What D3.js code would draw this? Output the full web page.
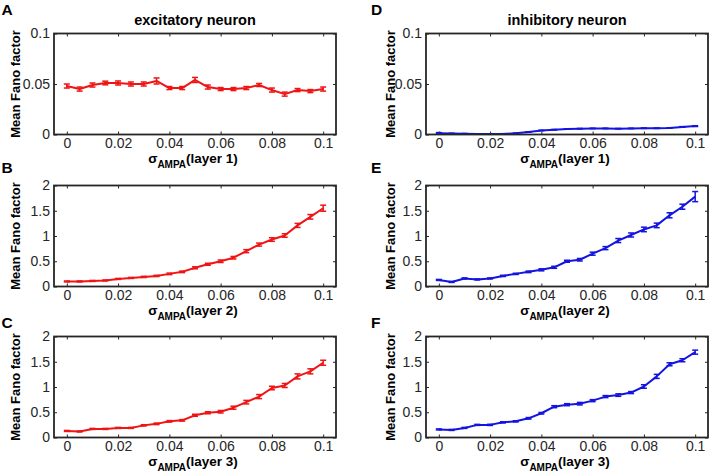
<!DOCTYPE html>
<html><head><meta charset="utf-8">
<script src="https://cdn.jsdelivr.net/npm/d3@7"></script>
<style>
html,body{margin:0;padding:0;background:#fff;}
svg{display:block;font-family:"Liberation Sans",Arial,Helvetica,sans-serif;}
</style></head>
<body>
<svg id="chart" width="709" height="476"></svg>
<script>
// ---- data ----
const sigma = [0,0.005,0.01,0.015,0.02,0.025,0.03,0.035,0.04,0.045,0.05,0.055,0.06,0.065,0.07,0.075,0.08,0.085,0.09,0.095,0.1];
const xTicks = [0,0.02,0.04,0.06,0.08,0.1];
const yTicksL1 = [0,0.05,0.1];
const yTicksL23 = [0,0.5,1,1.5,2];

const excL1 = [0.048,0.045,0.049,0.051,0.051,0.050,0.050,0.053,0.046,0.046,0.054,0.047,0.045,0.045,0.046,0.049,0.044,0.040,0.044,0.043,0.045];
const excL1Err = [0.002,0.002,0.002,0.0018,0.002,0.002,0.002,0.003,0.0015,0.0015,0.0025,0.002,0.0015,0.0015,0.0015,0.0015,0.002,0.002,0.0015,0.0015,0.002];
const excL2 = [0.10,0.10,0.11,0.12,0.15,0.17,0.19,0.21,0.25,0.29,0.37,0.44,0.50,0.57,0.70,0.83,0.93,1.01,1.21,1.38,1.55];
const excL2Err = [0.01,0.01,0.01,0.01,0.01,0.01,0.012,0.012,0.015,0.015,0.02,0.02,0.025,0.025,0.03,0.03,0.035,0.035,0.04,0.045,0.06];
const excL3 = [0.13,0.12,0.17,0.17,0.19,0.19,0.24,0.27,0.32,0.34,0.44,0.49,0.51,0.59,0.70,0.81,0.98,1.03,1.21,1.31,1.48];
const excL3Err = [0.01,0.01,0.01,0.01,0.01,0.01,0.012,0.015,0.015,0.015,0.02,0.02,0.025,0.03,0.035,0.04,0.035,0.04,0.05,0.05,0.05];

const inhL1 = [0.0013,0.0010,0.0008,0.0005,0.0004,0.0006,0.0012,0.0025,0.0040,0.0048,0.0055,0.0058,0.0060,0.0060,0.0058,0.0060,0.0062,0.0062,0.0065,0.0075,0.0083];
const inhL1Err = [0.0006,0.0002,0.0002,0.0002,0.0002,0.0002,0.0002,0.0002,0.0002,0.0002,0.0002,0.0002,0.0002,0.0002,0.0002,0.0002,0.0002,0.0002,0.0002,0.0003,0.0004];
const inhL2 = [0.13,0.09,0.16,0.14,0.16,0.21,0.25,0.29,0.33,0.38,0.50,0.53,0.65,0.76,0.91,1.02,1.13,1.21,1.41,1.58,1.78];
const inhL2Err = [0.01,0.01,0.01,0.01,0.01,0.012,0.012,0.015,0.02,0.02,0.02,0.025,0.03,0.03,0.04,0.04,0.045,0.045,0.05,0.05,0.1];
const inhL3 = [0.16,0.15,0.19,0.25,0.25,0.30,0.32,0.38,0.48,0.61,0.65,0.67,0.73,0.81,0.84,0.89,1.01,1.21,1.45,1.53,1.69];
const inhL3Err = [0.01,0.01,0.01,0.01,0.012,0.012,0.012,0.015,0.015,0.02,0.02,0.025,0.02,0.02,0.025,0.02,0.035,0.04,0.03,0.03,0.04];

const panels = [
  {letter:"A", col:0, row:0, y:excL1, e:excL1Err, yMax:0.1, yTicks:yTicksL1, color:"#f01414", layer:1, title:"excitatory neuron"},
  {letter:"B", col:0, row:1, y:excL2, e:excL2Err, yMax:2, yTicks:yTicksL23, color:"#f01414", layer:2},
  {letter:"C", col:0, row:2, y:excL3, e:excL3Err, yMax:2, yTicks:yTicksL23, color:"#f01414", layer:3},
  {letter:"D", col:1, row:0, y:inhL1, e:inhL1Err, yMax:0.1, yTicks:yTicksL1, color:"#1414e0", layer:1, title:"inhibitory neuron"},
  {letter:"E", col:1, row:1, y:inhL2, e:inhL2Err, yMax:2, yTicks:yTicksL23, color:"#1414e0", layer:2},
  {letter:"F", col:1, row:2, y:inhL3, e:inhL3Err, yMax:2, yTicks:yTicksL23, color:"#1414e0", layer:3}
];

// ---- layout ----
const colLeft = [54, 426], colWidth = 282;
const rowTop = [33.5, 185.5, 336.5], rowHeight = 101;
const letterY = [15, 173, 328];
const ink = "#262626";

const svg = d3.select("#chart");

panels.forEach(p => {
  const x0 = colLeft[p.col], y0 = rowTop[p.row];
  const g = svg.append("g").attr("transform", `translate(${x0},${y0})`);
  const xs = d3.scaleLinear().domain([-0.005, 0.105]).range([0, colWidth]);
  const ys = d3.scaleLinear().domain([0, p.yMax]).range([rowHeight, 0]);

  const styleAxis = sel => {
    sel.select(".domain").remove();
    sel.selectAll(".tick line").attr("stroke", ink).attr("stroke-width", 1);
    sel.selectAll(".tick text").attr("fill", ink).style("font-size", "14px")
      .style("font-family", '"Liberation Sans",Arial,Helvetica,sans-serif');
  };
  g.append("g").attr("transform", `translate(0,${rowHeight})`)
    .call(d3.axisBottom(xs).tickValues(xTicks).tickFormat(d => String(d)).tickSizeInner(-3).tickSizeOuter(0).tickPadding(3.5))
    .call(styleAxis);
  g.append("g")
    .call(d3.axisTop(xs).tickValues(xTicks).tickFormat("").tickSizeInner(-3).tickSizeOuter(0))
    .call(styleAxis);
  g.append("g")
    .call(d3.axisLeft(ys).tickValues(p.yTicks).tickFormat(d => String(d)).tickSizeInner(-3).tickSizeOuter(0).tickPadding(4))
    .call(styleAxis);
  g.append("g").attr("transform", `translate(${colWidth},0)`)
    .call(d3.axisRight(ys).tickValues(p.yTicks).tickFormat("").tickSizeInner(-3).tickSizeOuter(0))
    .call(styleAxis);

  const pts = sigma.map((s, i) => ({x: s, y: p.y[i], e: p.e[i]}));
  const line = d3.line().x(d => xs(d.x)).y(d => ys(d.y));
  g.append("path").datum(pts).attr("d", line).attr("fill", "none")
    .attr("stroke", p.color).attr("stroke-width", 2).attr("stroke-linejoin", "round");
  const eb = g.append("g").attr("stroke", p.color).attr("stroke-width", 1.5);
  pts.forEach(d => {
    const cx = xs(d.x), yt = ys(d.y + d.e), yb = ys(d.y - d.e);
    eb.append("line").attr("x1", cx).attr("x2", cx).attr("y1", yt).attr("y2", yb);
    eb.append("line").attr("x1", cx - 3).attr("x2", cx + 3).attr("y1", yt).attr("y2", yt);
    eb.append("line").attr("x1", cx - 3).attr("x2", cx + 3).attr("y1", yb).attr("y2", yb);
  });

  g.append("rect").attr("x", 0).attr("y", 0).attr("width", colWidth).attr("height", rowHeight)
    .attr("fill", "none").attr("stroke", ink).attr("stroke-width", 1.8);

  // y label
  g.append("text").attr("transform", `translate(${p.col === 0 ? -34 : -31},${rowHeight/2}) rotate(-90)`)
    .attr("text-anchor", "middle").attr("font-weight", "bold").attr("font-size", 13).attr("fill", "#000")
    .text("Mean Fano factor");

  // x label
  const xl = g.append("text").attr("x", colWidth/2 - 2).attr("y", rowHeight + 28)
    .attr("text-anchor", "middle").attr("font-weight", "bold").attr("fill", "#000").attr("font-size", 13.5);
  xl.append("tspan").text("σ");
  xl.append("tspan").attr("font-size", 10).attr("dy", 5).text("AMPA");
  xl.append("tspan").attr("dy", -5).text(`(layer ${p.layer})`);

  if (p.title) {
    g.append("text").attr("x", colWidth/2).attr("y", 25 - y0)
      .attr("text-anchor", "middle").attr("font-weight", "bold").attr("font-size", 14.5).attr("fill", "#000")
      .text(p.title);
  }
  svg.append("text").attr("x", p.col === 0 ? 1.5 : 371).attr("y", letterY[p.row])
    .attr("font-weight", "bold").attr("font-size", 15.5).attr("fill", "#000").text(p.letter);
});
</script>
</body></html>
